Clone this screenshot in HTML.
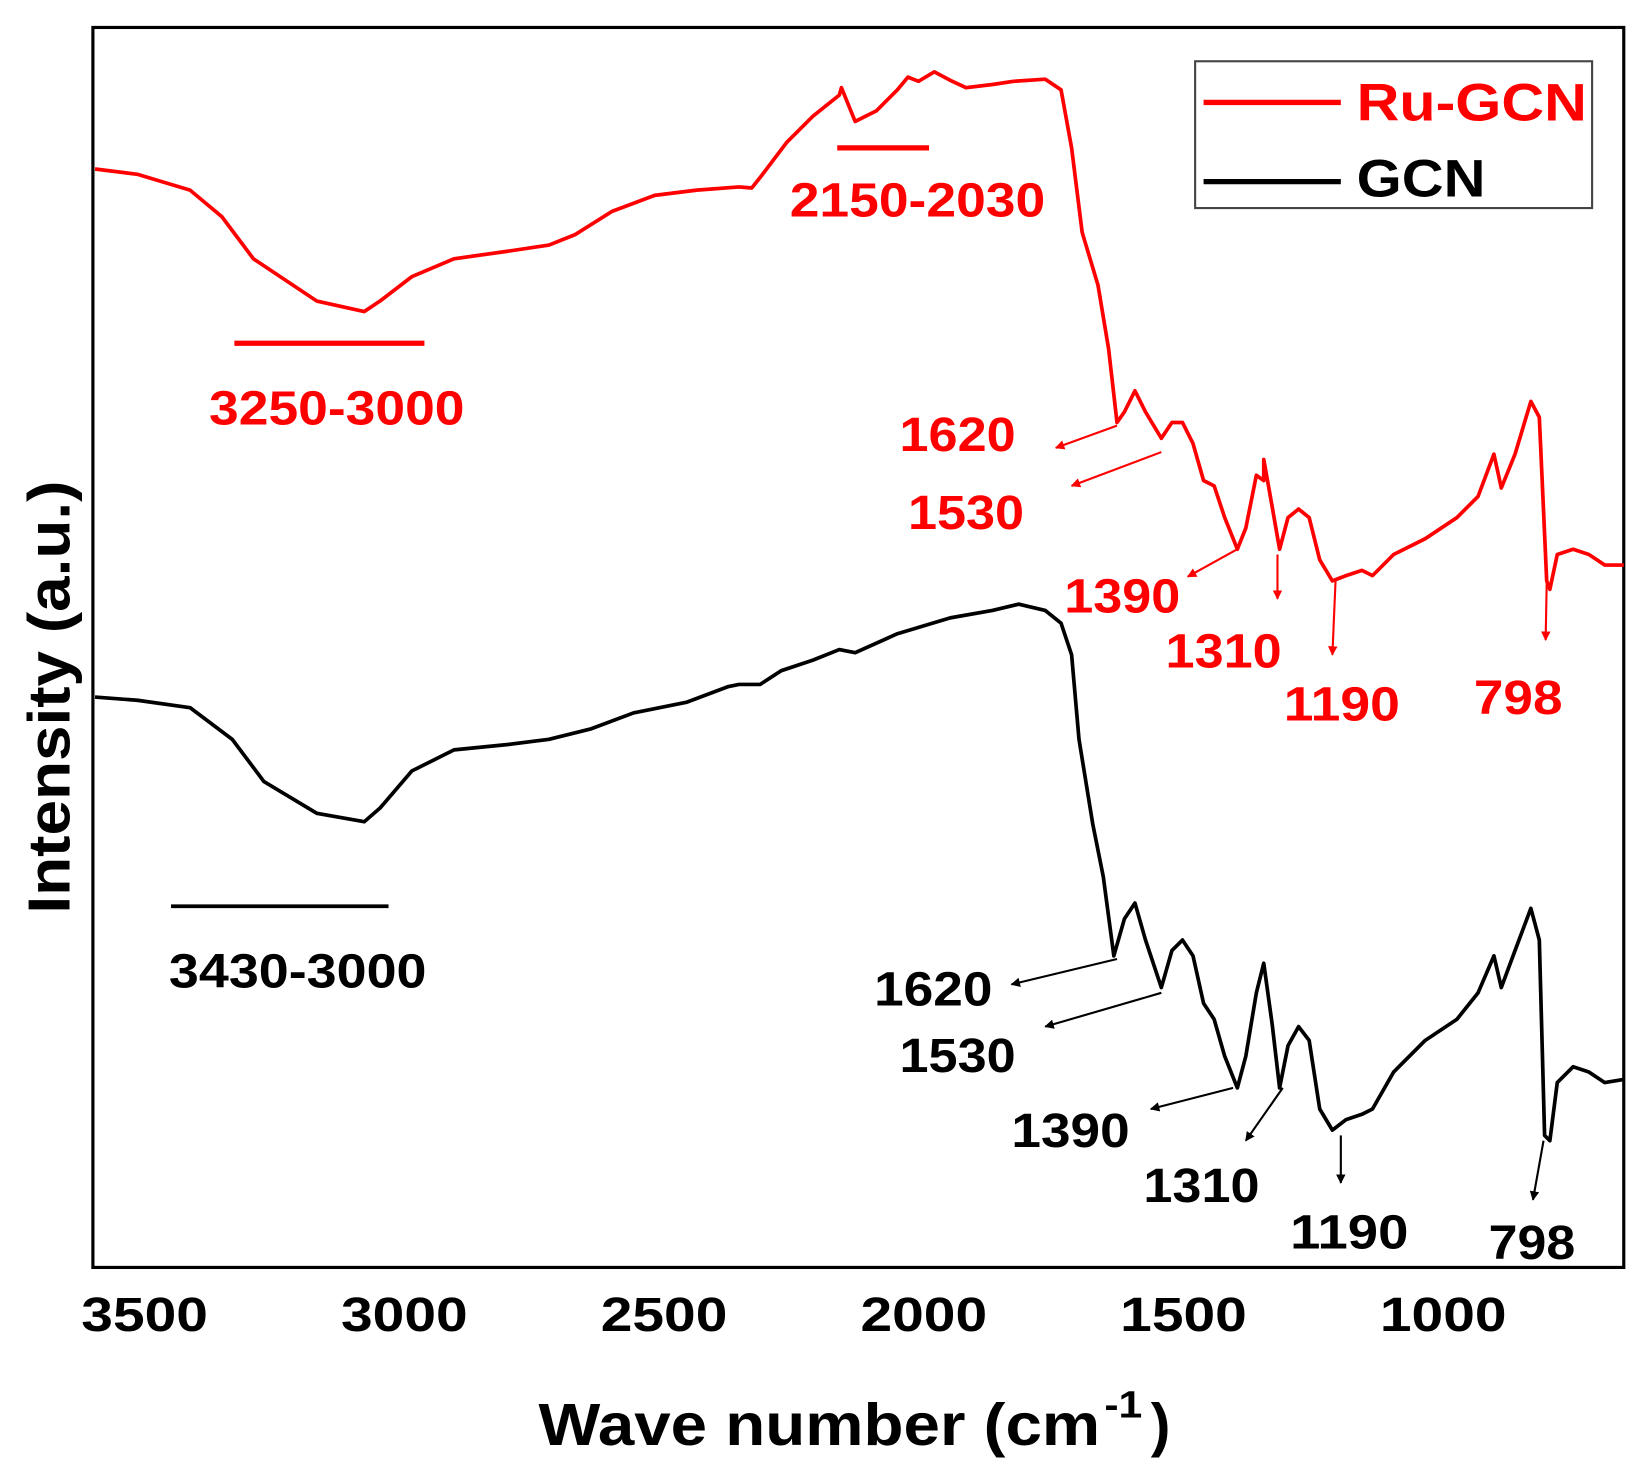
<!DOCTYPE html>
<html><head><meta charset="utf-8"><style>
html,body{margin:0;padding:0;background:#fff}
svg{display:block}
text{font-family:"Liberation Sans",Arial,sans-serif;font-weight:bold}
</style></head><body>
<svg width="1647" height="1466" viewBox="0 0 1560 1388" preserveAspectRatio="none" xmlns="http://www.w3.org/2000/svg">
<defs>
<marker id="ar" viewBox="0 0 10 10" refX="9" refY="5" markerWidth="9" markerHeight="9" orient="auto" markerUnits="userSpaceOnUse"><path d="M0,0 L10,5 L0,10 z" fill="#f00"/></marker>
<marker id="ab" viewBox="0 0 10 10" refX="9" refY="5" markerWidth="9" markerHeight="9" orient="auto" markerUnits="userSpaceOnUse"><path d="M0,0 L10,5 L0,10 z" fill="#000"/></marker>
</defs>
<style>.ar{marker-end:url(#ar)} .ab{marker-end:url(#ab)}</style>
<rect x="88" y="26" width="1450" height="1174" fill="none" stroke="#000" stroke-width="3"/>
<polyline fill="none" stroke="#f00" stroke-width="3.5" stroke-linejoin="round" points="90,160 130,165 180,180 210,205 240,245 270,265 300,285 345,295 360,285 390,262 430,245 480,238 520,232 545,222 580,200 620,185 660,180 700,177 712,178 720,168 745,135 770,110 795,90 797,83 810,115 830,105 850,85 860,73 870,77 885,68 900,76 915,83 940,80 960,77 990,75 1005,85 1015,140 1025,220 1040,270 1050,330 1058,400 1065,390 1075,370 1085,390 1100,415 1110,400 1120,400 1130,420 1140,455 1150,460 1160,490 1172,520 1180,500 1190,450 1197,455 1197,435 1205,480 1212,520 1220,490 1230,482 1240,490 1250,530 1262,550 1275,545 1290,540 1300,545 1320,525 1350,510 1380,490 1400,470 1415,430 1422,462 1435,430 1450,380 1458,395 1465,550 1468,558 1475,525 1490,520 1505,525 1520,535 1538,535"/>
<polyline fill="none" stroke="#000" stroke-width="3.5" stroke-linejoin="round" points="90,660 130,663 180,670 220,700 250,740 300,770 345,778 360,765 390,730 430,710 480,705 520,700 560,690 600,675 650,665 690,650 700,648 720,648 740,635 770,625 795,615 810,618 850,600 900,585 940,578 965,572 990,578 1005,590 1015,620 1022,700 1035,780 1045,830 1055,905 1065,870 1075,855 1085,890 1100,935 1110,900 1120,890 1130,905 1140,950 1150,965 1160,1000 1172,1030 1180,1000 1190,940 1197,912 1205,970 1212,1030 1220,990 1230,972 1240,985 1250,1050 1262,1070 1275,1060 1290,1055 1300,1050 1320,1015 1350,985 1380,965 1400,940 1415,905 1422,935 1435,900 1450,860 1458,890 1463,1075 1468,1080 1475,1025 1490,1010 1505,1015 1520,1025 1538,1022"/>
<rect x="1132" y="58" width="376" height="139" fill="#fff" stroke="#444" stroke-width="2"/>
<line x1="1140" y1="97" x2="1270" y2="97" stroke="#f00" stroke-width="5"/>
<text x="1285" y="114" font-size="50" fill="#f00" textLength="218" lengthAdjust="spacingAndGlyphs">Ru-GCN</text>
<line x1="1140" y1="172" x2="1270" y2="172" stroke="#000" stroke-width="5"/>
<text x="1285" y="186" font-size="50" fill="#000" textLength="122" lengthAdjust="spacingAndGlyphs">GCN</text>
<line x1="222" y1="325" x2="402" y2="325" stroke="#f00" stroke-width="5"/>
<text x="198" y="402" font-size="46" fill="#f00" textLength="242" lengthAdjust="spacingAndGlyphs">3250-3000</text>
<line x1="793" y1="140" x2="880" y2="140" stroke="#f00" stroke-width="5"/>
<text x="748" y="205" font-size="46" fill="#f00" textLength="242" lengthAdjust="spacingAndGlyphs">2150-2030</text>
<g stroke="#f00" stroke-width="2">
<line class="ar" x1="1058" y1="403" x2="1000" y2="424"/>
<line class="ar" x1="1100" y1="428" x2="1015" y2="460"/>
<line class="ar" x1="1172" y1="520" x2="1125" y2="546"/>
<line class="ar" x1="1210" y1="525" x2="1210" y2="567"/>
<line class="ar" x1="1265" y1="550" x2="1262" y2="620"/>
<line class="ar" x1="1465" y1="552" x2="1464" y2="606"/>
</g>
<g fill="#f00" font-size="46">
<text x="852" y="427" textLength="110" lengthAdjust="spacingAndGlyphs">1620</text>
<text x="860" y="501" textLength="110" lengthAdjust="spacingAndGlyphs">1530</text>
<text x="1008" y="580" textLength="110" lengthAdjust="spacingAndGlyphs">1390</text>
<text x="1104" y="632" textLength="110" lengthAdjust="spacingAndGlyphs">1310</text>
<text x="1216" y="682" textLength="110" lengthAdjust="spacingAndGlyphs">1190</text>
<text x="1396" y="676" textLength="84" lengthAdjust="spacingAndGlyphs">798</text>
</g>
<line x1="162" y1="858" x2="368" y2="858" stroke="#000" stroke-width="3.5"/>
<text x="160" y="935" font-size="46" fill="#000" textLength="244" lengthAdjust="spacingAndGlyphs">3430-3000</text>
<g stroke="#000" stroke-width="2">
<line class="ab" x1="1058" y1="908" x2="958" y2="932"/>
<line class="ab" x1="1100" y1="940" x2="990" y2="972"/>
<line class="ab" x1="1168" y1="1030" x2="1090" y2="1050"/>
<line class="ab" x1="1215" y1="1030" x2="1180" y2="1080"/>
<line class="ab" x1="1270" y1="1075" x2="1270" y2="1120"/>
<line class="ab" x1="1462" y1="1080" x2="1452" y2="1136"/>
</g>
<g fill="#000" font-size="46">
<text x="828" y="952" textLength="112" lengthAdjust="spacingAndGlyphs">1620</text>
<text x="852" y="1015" textLength="110" lengthAdjust="spacingAndGlyphs">1530</text>
<text x="958" y="1086" textLength="112" lengthAdjust="spacingAndGlyphs">1390</text>
<text x="1083" y="1138" textLength="110" lengthAdjust="spacingAndGlyphs">1310</text>
<text x="1222" y="1182" textLength="112" lengthAdjust="spacingAndGlyphs">1190</text>
<text x="1410" y="1192" textLength="82" lengthAdjust="spacingAndGlyphs">798</text>
</g>
<g font-size="46" fill="#000">
<text x="77" y="1260" textLength="120" lengthAdjust="spacingAndGlyphs">3500</text>
<text x="323" y="1260" textLength="120" lengthAdjust="spacingAndGlyphs">3000</text>
<text x="569" y="1260" textLength="120" lengthAdjust="spacingAndGlyphs">2500</text>
<text x="815" y="1260" textLength="120" lengthAdjust="spacingAndGlyphs">2000</text>
<text x="1061" y="1260" textLength="120" lengthAdjust="spacingAndGlyphs">1500</text>
<text x="1307" y="1260" textLength="120" lengthAdjust="spacingAndGlyphs">1000</text>
</g>
<text x="510" y="1368" font-size="56" fill="#000" textLength="532" lengthAdjust="spacingAndGlyphs">Wave number (cm</text>
<text x="1046" y="1342" font-size="36" fill="#000" textLength="36" lengthAdjust="spacingAndGlyphs">-1</text>
<text x="1090" y="1368" font-size="56" fill="#000">)</text>
<text transform="translate(66,660) rotate(-90)" font-size="56" fill="#000" text-anchor="middle" textLength="410" lengthAdjust="spacingAndGlyphs">Intensity (a.u.)</text>
</svg>
</body></html>
